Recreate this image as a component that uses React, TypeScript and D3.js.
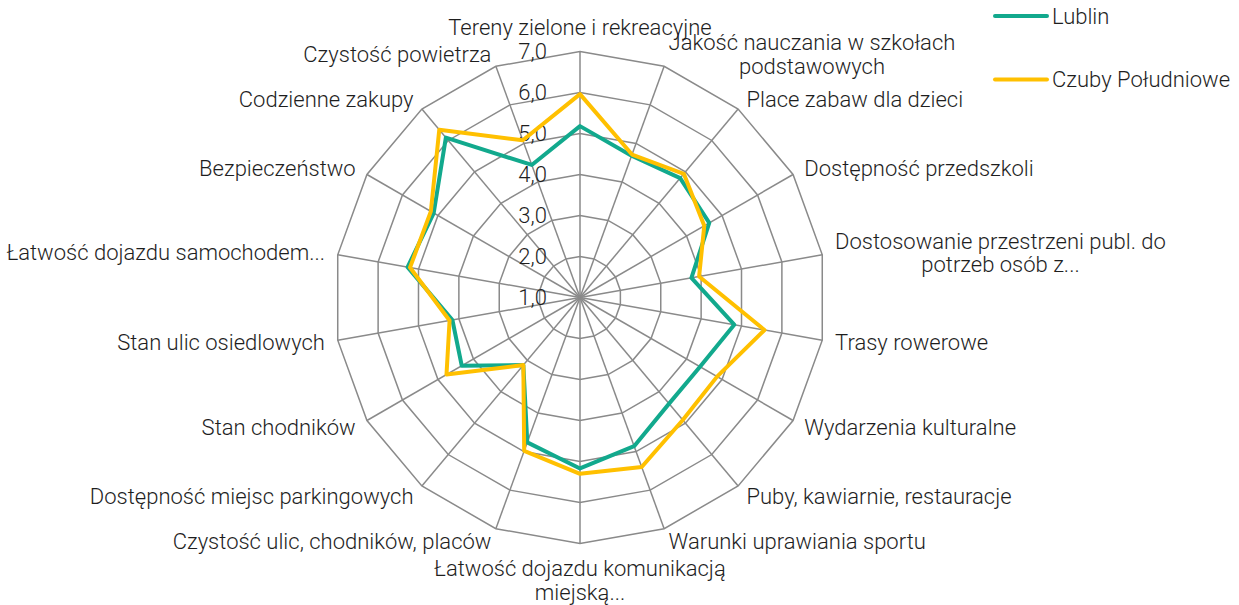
// Radar chart: Lublin vs Czuby Południowe – ocena warunków życia
import React, { useEffect, useRef } from 'react';
import * as d3 from 'd3';

const categories: string[][] = [
  ['Tereny zielone i rekreacyjne'],
  ['Jakość nauczania w szkołach', 'podstawowych'],
  ['Place zabaw dla dzieci'],
  ['Dostępność przedszkoli'],
  ['Dostosowanie przestrzeni publ. do', 'potrzeb osób z...'],
  ['Trasy rowerowe'],
  ['Wydarzenia kulturalne'],
  ['Puby, kawiarnie, restauracje'],
  ['Warunki uprawiania sportu'],
  ['Łatwość dojazdu komunikacją', 'miejską...'],
  ['Czystość ulic, chodników, placów'],
  ['Dostępność miejsc parkingowych'],
  ['Stan chodników'],
  ['Stan ulic osiedlowych'],
  ['Łatwość dojazdu samochodem...'],
  ['Bezpieczeństwo'],
  ['Codzienne zakupy'],
  ['Czystość powietrza'],
];

const lublin = [5.18, 4.68, 4.8, 4.64, 3.76, 4.82, 4.38, 4.38, 4.86, 5.17, 4.76, 3.15, 4.33, 4.16, 5.27, 5.12, 6.09, 4.44];
const czuby = [5.96, 4.71, 4.94, 4.5, 3.95, 5.57, 4.86, 4.9, 5.4, 5.3, 4.98, 3.15, 4.76, 4.23, 5.21, 5.2, 6.34, 5.08];

const seriesNames = ['Lublin', 'Czuby Południowe'];
const seriesColors = ['#12A98D', '#FFC000'];
const tickValues = [1, 2, 3, 4, 5, 6, 7];

const WIDTH = 1239;
const HEIGHT = 605;
const FONT = "Roboto, 'Liberation Sans', sans-serif";

const App: React.FC = () => {
  const svgRef = useRef<SVGSVGElement>(null);

  useEffect(() => {
    const svg = d3.select(svgRef.current);
    svg.selectAll('*').remove();

    const cx = 580;
    const cy = 297.5;
    const R = 246;
    const fs = 22;
    const lineH = 23.5;
    const n = categories.length;

    const rScale = d3.scaleLinear().domain([1, 7]).range([0, R]);
    const angle = (i: number) => (i * 2 * Math.PI) / n;

    const g = svg.append('g').attr('transform', `translate(${cx},${cy})`);

    // grid rings
    const ring = d3
      .lineRadial<number>()
      .angle((_, i) => angle(i))
      .radius((d) => d)
      .curve(d3.curveLinearClosed);

    tickValues.slice(1).forEach((t) => {
      g.append('path')
        .datum(d3.range(n).map(() => rScale(t)))
        .attr('d', ring)
        .attr('fill', 'none')
        .attr('stroke', '#8a8a8a')
        .attr('stroke-width', 1.5);
    });

    // spokes
    d3.range(n).forEach((i) => {
      g.append('line')
        .attr('x1', 0)
        .attr('y1', 0)
        .attr('x2', R * Math.sin(angle(i)))
        .attr('y2', -R * Math.cos(angle(i)))
        .attr('stroke', '#8a8a8a')
        .attr('stroke-width', 1.5);
    });

    // tick labels
    tickValues.forEach((t) => {
      g.append('text')
        .attr('x', -33)
        .attr('y', -rScale(t) + 0.355 * fs)
        .attr('text-anchor', 'end')
        .style('font-family', FONT)
        .style('font-weight', 300)
        .style('font-size', `${fs}px`)
        .attr('fill', '#1e1e1e')
        .text(d3.format('.1f')(t).replace('.', ','));
    });

    // series
    [lublin, czuby].forEach((vals, si) => {
      g.append('path')
        .datum(vals)
        .attr('d', ring.radius((d) => rScale(d)))
        .attr('fill', 'none')
        .attr('stroke', seriesColors[si])
        .attr('stroke-width', 4)
        .attr('stroke-linejoin', 'round');
    });

    // category labels
    categories.forEach((lines, i) => {
      const a = angle(i);
      const s = Math.sin(a);
      const c = Math.cos(a);
      const px = (R + 13) * s;
      const py = -(R + 13) * c;
      const text = g
        .append('text')
        .style('font-family', FONT)
        .style('font-weight', 300)
        .style('font-size', `${fs}px`)
        .attr('fill', '#1e1e1e');
      const spans = lines.map((l) => text.append('tspan').text(l));
      const widths = spans.map((sp) => (sp.node() as SVGTSpanElement).getComputedTextLength());
      const blockW = Math.max(...widths);
      const blockH = lines.length * lineH;
      let centerX: number;
      if (Math.abs(s) < 0.01) centerX = px;
      else if (s > 0) centerX = px + blockW / 2;
      else centerX = px - blockW / 2;
      let top: number;
      if (Math.abs(s) < 0.01) top = c > 0 ? py - blockH : py;
      else top = py - blockH / 2;
      spans.forEach((sp, li) => {
        sp.attr('x', centerX)
          .attr('y', top + li * lineH + lineH / 2 + 0.355 * fs)
          .attr('text-anchor', 'middle');
      });
    });

    // legend
    const legend = svg.append('g');
    [16, 79.5].forEach((ly, si) => {
      legend
        .append('line')
        .attr('x1', 995)
        .attr('x2', 1047)
        .attr('y1', ly)
        .attr('y2', ly)
        .attr('stroke', seriesColors[si])
        .attr('stroke-width', 4)
        .attr('stroke-linecap', 'round');
      legend
        .append('text')
        .attr('x', 1052)
        .attr('y', ly + 0.355 * 22)
        .style('font-family', FONT)
        .style('font-weight', 300)
        .style('font-size', '22px')
        .attr('fill', '#1e1e1e')
        .text(seriesNames[si]);
    });
  }, []);

  return (
    <div style={{ position: 'absolute', left: 0, top: 0, width: WIDTH, height: HEIGHT, background: '#fff' }}>
      <svg ref={svgRef} width={WIDTH} height={HEIGHT} style={{ display: 'block' }}></svg>
    </div>
  );
};

export default App;
